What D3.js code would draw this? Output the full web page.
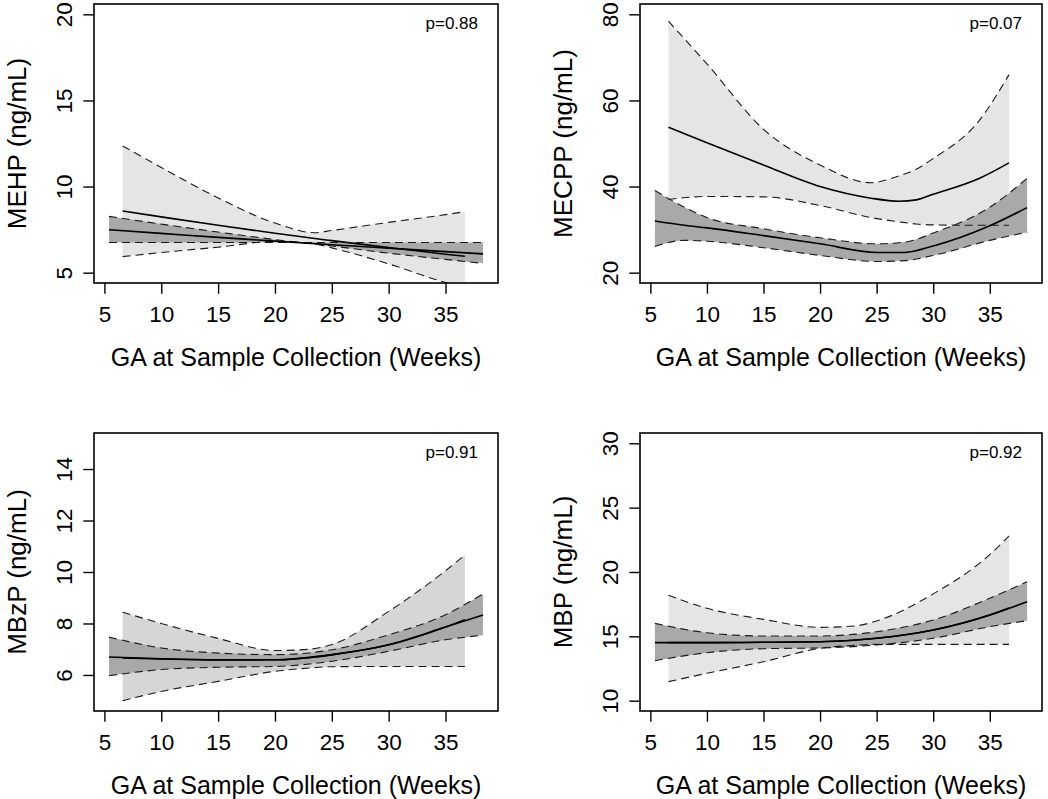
<!DOCTYPE html>
<html>
<head>
<meta charset="utf-8">
<script src="https://cdn.jsdelivr.net/npm/d3@7"></script>
<style>
  body { margin: 0; background: #fff; }
  text { font-family: "Liberation Sans", Arial, Helvetica, sans-serif; fill: #000; }
</style>
</head>
<body>
<svg id="chart" width="1048" height="799"></svg>
<script>
// ---- data (weeks of gestation, ng/mL) ----
var xTicks = [5, 10, 15, 20, 25, 30, 35];
var xTitle = "GA at Sample Collection (Weeks)";
var weekRange = [5.4, 38.3];

// dark band = full sample, light band = subgroup
var darkWeeks = [5.4, 10, 15, 20, 25, 30, 35, 38.3];

// MEHP
var mehpLightWeeks = [6.6, 10, 15, 20, 23.5, 25, 30, 35, 36.7];
var mehpLightUpper = [12.36, 11.11, 9.34, 7.88, 7.32, 7.45, 7.92, 8.37, 8.54];
var mehpLightFit   = [8.58, 8.24, 7.75, 7.29, 6.98, 6.86, 6.46, 6.07, 5.95];
var mehpLightLower = [5.93, 6.17, 6.48, 6.81, 6.67, 6.44, 5.51, 4.43, 4.14];
var mehpDarkUpper  = [8.27, 7.82, 7.36, 6.92, 6.55, 6.13, 5.77, 5.54];
var mehpDarkFit    = [7.49, 7.28, 7.05, 6.83, 6.62, 6.42, 6.22, 6.09];
var mehpDarkLower  = [6.75, 6.75, 6.75, 6.75, 6.75, 6.75, 6.75, 6.75];

// MECPP
var mecppLightWeeks = [6.6, 10, 15, 20, 24.5, 27, 28.5, 30, 34, 36.7];
var mecppLightUpper = [78.4, 68.5, 53.3, 45.0, 40.9, 42.5, 44.0, 46.5, 55.1, 66.0];
var mecppLightFit   = [53.8, 50.2, 45.0, 40.0, 37.3, 36.6, 36.9, 38.2, 41.8, 45.5];
var mecppLightLower = [37.0, 37.7, 37.6, 35.6, 32.8, 31.8, 31.3, 31.1, 31.0, 31.0];
var mecppDarkWeeks  = [5.4, 8, 10, 15, 20, 25, 27.5, 30, 35, 38.3];
var mecppDarkUpper  = [39.1, 35.2, 32.8, 30.2, 28.1, 26.7, 27.1, 29.2, 35.2, 41.9];
var mecppDarkFit    = [32.0, 31.0, 30.4, 28.6, 26.7, 24.7, 24.7, 26.2, 30.9, 35.1];
var mecppDarkLower  = [26.1, 27.5, 27.3, 25.8, 24.0, 22.6, 22.8, 24.0, 27.5, 29.4];

// MBzP
var mbzpLightWeeks = [6.6, 10, 15, 20, 23, 25, 30, 35, 36.7];
var mbzpLightUpper = [8.44, 8.0, 7.42, 6.95, 7.0, 7.18, 8.47, 10.05, 10.66];
var mbzpLightFit   = [6.66, 6.62, 6.58, 6.59, 6.67, 6.78, 7.17, 7.86, 8.15];
var mbzpLightLower = [5.0, 5.36, 5.75, 6.14, 6.27, 6.32, 6.33, 6.33, 6.33];
var mbzpDarkUpper  = [7.47, 7.05, 6.85, 6.79, 6.98, 7.56, 8.34, 9.15];
var mbzpDarkFit    = [6.70, 6.63, 6.59, 6.59, 6.79, 7.17, 7.86, 8.33];
var mbzpDarkLower  = [5.97, 6.21, 6.30, 6.33, 6.53, 6.92, 7.37, 7.54];

// MBP
var mbpLightWeeks = [6.6, 10, 15, 20, 23, 25, 30, 35, 36.7];
var mbpLightUpper = [18.19, 17.18, 16.32, 15.70, 15.80, 16.2, 18.3, 21.35, 22.8];
var mbpLightFit   = [14.51, 14.51, 14.54, 14.58, 14.7, 14.85, 15.49, 16.66, 17.2];
var mbpLightLower = [11.48, 12.13, 13.03, 14.07, 14.3, 14.38, 14.38, 14.38, 14.38];
var mbpDarkUpper  = [16.01, 15.28, 15.03, 15.03, 15.36, 16.27, 17.96, 19.25];
var mbpDarkFit    = [14.51, 14.51, 14.54, 14.58, 14.85, 15.49, 16.66, 17.69];
var mbpDarkLower  = [13.11, 13.73, 14.04, 14.10, 14.33, 14.85, 15.75, 16.22];

var yLabels  = ["MEHP (ng/mL)", "MECPP (ng/mL)", "MBzP (ng/mL)", "MBP (ng/mL)"];
var pLabels  = ["p=0.88", "p=0.07", "p=0.91", "p=0.92"];
var yLimits  = [[5, 20], [20, 80], [5, 15], [10, 30]];
var yTickSet = [[5, 10, 15, 20], [20, 40, 60, 80], [6, 8, 10, 12, 14], [10, 15, 20, 25, 30]];

function zipBand(weeks, upper, fit, lower) {
    return weeks.map(function(w, i) {
        return {x: w, hi: upper[i], fit: fit[i], lo: lower[i]};
    });
}

var panels = [
    {light: zipBand(mehpLightWeeks, mehpLightUpper, mehpLightFit, mehpLightLower),
     dark: zipBand(darkWeeks, mehpDarkUpper, mehpDarkFit, mehpDarkLower), lightFill: "#e5e5e5"},
    {light: zipBand(mecppLightWeeks, mecppLightUpper, mecppLightFit, mecppLightLower),
     dark: zipBand(mecppDarkWeeks, mecppDarkUpper, mecppDarkFit, mecppDarkLower), lightFill: "#e5e5e5"},
    {light: zipBand(mbzpLightWeeks, mbzpLightUpper, mbzpLightFit, mbzpLightLower),
     dark: zipBand(darkWeeks, mbzpDarkUpper, mbzpDarkFit, mbzpDarkLower), lightFill: "#d6d6d6"},
    {light: zipBand(mbpLightWeeks, mbpLightUpper, mbpLightFit, mbpLightLower),
     dark: zipBand(darkWeeks, mbpDarkUpper, mbpDarkFit, mbpDarkLower), lightFill: "#e5e5e5"}
];

// plot boxes, 2 x 2
var boxes = [
    {x0: 94,  x1: 498,  y0: 4,   y1: 283},
    {x0: 640, x1: 1042, y0: 4,   y1: 283},
    {x0: 94,  x1: 498,  y0: 433, y1: 711},
    {x0: 640, x1: 1042, y0: 433, y1: 711}
];

var svg = d3.select("#chart");
var darkFill = "#a9a9a9";

// R style: pad the data range by 4% on each side
function padded(r) {
    var d = (r[1] - r[0]) * 0.04;
    return [r[0] - d, r[1] + d];
}

function drawPanel(i) {
    var p = panels[i], box = boxes[i];
    var x = d3.scaleLinear().domain(padded(weekRange)).range([box.x0, box.x1]);
    var y = d3.scaleLinear().domain(padded(yLimits[i])).range([box.y1, box.y0]);

    svg.append("clipPath").attr("id", "clip" + i)
        .append("rect")
        .attr("x", box.x0).attr("y", box.y0)
        .attr("width", box.x1 - box.x0).attr("height", box.y1 - box.y0);

    var g = svg.append("g").attr("clip-path", "url(#clip" + i + ")");

    var curve = d3.curveMonotoneX;
    var area = d3.area().curve(curve)
        .x(function(d) { return x(d.x); })
        .y0(function(d) { return y(d.lo); })
        .y1(function(d) { return y(d.hi); });
    function line(key) {
        return d3.line().curve(curve)
            .x(function(d) { return x(d.x); })
            .y(function(d) { return y(d[key]); });
    }

    g.append("path").datum(p.light).attr("d", area).attr("fill", p.lightFill);
    g.append("path").datum(p.dark).attr("d", area).attr("fill", darkFill);

    [p.light, p.dark].forEach(function(band) {
        ["hi", "lo"].forEach(function(k) {
            g.append("path").datum(band).attr("d", line(k))
                .attr("fill", "none").attr("stroke", "#1a1a1a")
                .attr("stroke-width", 1.1).attr("stroke-dasharray", "8,5");
        });
        g.append("path").datum(band).attr("d", line("fit"))
            .attr("fill", "none").attr("stroke", "#000").attr("stroke-width", 1.6);
    });

    // frame
    svg.append("rect")
        .attr("x", box.x0).attr("y", box.y0)
        .attr("width", box.x1 - box.x0).attr("height", box.y1 - box.y0)
        .attr("fill", "none").attr("stroke", "#000").attr("stroke-width", 1.6);

    // x axis
    var xa = svg.append("g")
        .attr("transform", "translate(0," + box.y1 + ")")
        .call(d3.axisBottom(x).tickValues(xTicks).tickSize(10.7).tickSizeOuter(0));
    xa.select(".domain").remove();
    xa.selectAll("line").attr("stroke-width", 1.4);
    xa.selectAll("text")
        .attr("y", 39).attr("dy", null)
        .attr("font-size", 22.5)
        .attr("font-family", "Liberation Sans, Arial, sans-serif");

    // y axis, labels turned like R's las=0
    var ya = svg.append("g")
        .attr("transform", "translate(" + box.x0 + ",0)")
        .call(d3.axisLeft(y).tickValues(yTickSet[i]).tickSize(10.7).tickSizeOuter(0));
    ya.select(".domain").remove();
    ya.selectAll("line").attr("stroke-width", 1.4);
    ya.selectAll("text")
        .attr("x", null).attr("dy", null)
        .attr("text-anchor", "middle")
        .attr("transform", "translate(-22,0) rotate(-90)")
        .attr("font-size", 22.5)
        .attr("font-family", "Liberation Sans, Arial, sans-serif");

    // titles
    svg.append("text")
        .attr("x", (box.x0 + box.x1) / 2).attr("y", box.y1 + 83)
        .attr("text-anchor", "middle").attr("font-size", 25)
        .text(xTitle);

    svg.append("text")
        .attr("transform", "translate(" + (box.x0 - 68) + "," + ((box.y0 + box.y1) / 2) + ") rotate(-90)")
        .attr("text-anchor", "middle").attr("font-size", 26)
        .text(yLabels[i]);

    svg.append("text")
        .attr("x", box.x1 - 20).attr("y", box.y0 + 25)
        .attr("text-anchor", "end").attr("font-size", 17)
        .text(pLabels[i]);
}

for (var i = 0; i < panels.length; i++) {
    drawPanel(i);
}
</script>
</body>
</html>
